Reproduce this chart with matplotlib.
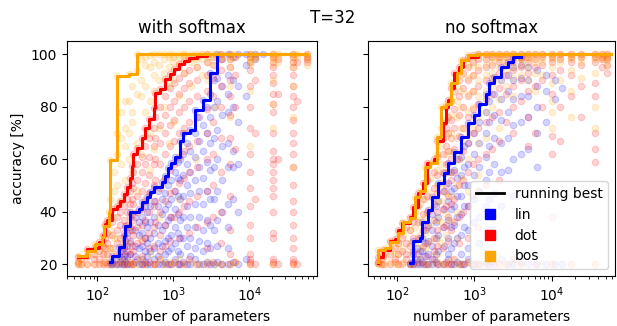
import matplotlib
matplotlib.use("Agg")
import matplotlib.pyplot as plt
from matplotlib.lines import Line2D

# ---- with softmax: scatter columns (number of parameters -> accuracies) ----
soft_lin_cols = [148, 158, 175, 195, 210, 226, 234, 250, 272, 310, 357, 391, 420, 454, 498, 563, 630,
                 715, 785, 860, 940, 1063, 1150, 1236, 1350, 1500, 1674, 1947, 2200, 2470, 2750, 3067,
                 3400, 3800, 4400, 5300, 6200, 7200, 9000, 12000, 15000]
soft_lin_acc = [[20.8, 20], [23, 20, 21], [22, 20], [26.5, 20, 23], [25, 20, 22], [30.7, 20, 26, 22],
                [34.6, 21, 29, 24], [32, 20, 27, 23], [39.8, 20, 34, 29, 24], [38, 21, 33, 27, 23],
                [41, 20, 36, 31, 26], [43.5, 20, 38, 32, 27, 22], [42, 21, 36, 30, 25],
                [45.5, 20, 40, 34, 28, 23], [47.4, 20, 42, 36, 30, 25], [49.3, 22, 44, 38, 32, 26],
                [48, 20, 42, 35, 28, 23], [51.2, 20, 45, 39, 33, 27], [53.5, 21, 47, 41, 35, 29, 24],
                [56.6, 20, 50, 43, 37, 30, 25], [58.7, 20, 52, 45, 38, 31, 26], [61, 22, 55, 48, 41, 34, 28],
                [59, 20, 53, 46, 39, 32, 25], [67, 20, 60, 52, 45, 37, 30, 24], [70, 21, 62, 54, 46, 38, 30],
                [66, 20, 58, 50, 42, 34, 27], [71, 20, 63, 55, 47, 38, 30, 23], [78.6, 22, 70, 61, 52, 43, 34, 26],
                [76, 20, 67, 57, 48, 38, 29], [82.5, 20, 73, 63, 53, 43, 33, 25], [80, 21, 70, 59, 48, 37, 28],
                [92.7, 20, 85, 76, 66, 56, 45, 35, 26], [90, 20, 80, 68, 57, 45, 33],
                [100, 21, 91, 82, 71, 60, 48, 37, 27], [98, 20, 88, 77, 65, 52, 40],
                [100, 20, 92, 85, 78, 66, 57, 43, 34, 26], [99, 21, 90, 80, 63, 57, 45],
                [100, 20, 88, 74, 58, 40], [100, 96, 84, 22], [100, 98], [100]]

soft_dot_cols = [55, 62, 74, 91, 106, 120, 127, 135, 157, 183, 201, 226, 248, 272, 289, 298, 336, 391,
                 428, 483, 563, 580, 674, 785, 914, 1031, 1199, 1395, 1622, 2069, 2790, 3300, 4200,
                 5600, 6500, 10300, 12000, 20800, 24000, 37800, 42000, 58000]
soft_dot_acc = [[22.7, 20, 21], [20, 22], [25.7, 20, 23], [26, 20, 24, 22], [28.4, 20, 25, 22],
                [31, 20, 27, 24], [35.2, 21, 30, 26], [37, 20, 32, 28, 24], [41, 20, 36, 31, 26],
                [42.2, 20, 38, 33, 28, 24], [44, 21, 40, 35, 30, 25], [46.7, 20, 42, 37, 32, 27, 23],
                [49.3, 20, 45, 40, 35, 30, 25], [53, 21, 48, 43, 38, 33, 28, 24], [57.3, 20, 51, 45, 39, 33, 27],
                [62, 20, 55, 49, 43, 37, 31, 25], [64.3, 22, 58, 52, 46, 40, 34, 28],
                [68, 20, 61, 55, 48, 41, 35, 29, 23], [72, 20, 65, 58, 51, 44, 37, 30],
                [75.2, 21, 68, 61, 54, 47, 40, 32, 26], [79.5, 20, 72, 65, 58, 50, 42, 34, 27],
                [85.3, 20, 76, 68, 60, 52, 44, 36], [86.7, 22, 80, 73, 66, 58, 49, 40, 31, 25],
                [90.5, 20, 84, 77, 70, 62, 53, 44, 35, 27], [92.4, 20, 87, 80, 73, 65, 56, 47, 38, 29],
                [94.3, 21, 89, 82, 75, 67, 58, 48, 38], [96.2, 20, 91, 85, 78, 70, 61, 51, 40, 30],
                [97.3, 20, 93, 87, 80, 72, 63, 53, 42], [98.6, 22, 94, 89, 82, 74, 65, 55, 44, 32],
                [99.4, 20, 95, 90, 84, 76, 67, 57, 46, 34], [100, 20, 97, 92, 86, 79, 70, 60, 48, 36, 26],
                [99, 21, 96, 91, 84, 74, 62, 50, 38], [100, 20, 98, 94, 88, 80, 68, 55, 40, 28],
                [100, 20, 98, 95, 90, 84, 77, 68, 58, 46, 33, 24], [99, 21, 92, 80, 64],
                [100, 99, 97, 94, 88, 80, 72, 62, 55, 49, 42, 35, 30, 24, 22, 20, 21],
                [99, 20, 90, 70, 45],
                [100, 99, 97, 95, 92, 89, 85, 81, 78, 70, 63, 60, 58, 55, 52, 49, 46, 40, 32, 30, 22, 20, 21],
                [98, 20, 85, 60],
                [100, 99, 97, 95, 92, 88, 84, 80, 75, 70, 66, 62, 57, 50, 44, 40, 35, 30, 26, 22, 20, 21],
                [97, 20, 82], [100, 99, 98, 97]]

soft_bos_cols = [55, 62, 74, 94, 116, 124, 143, 148, 165, 183, 205, 230, 262, 290, 336, 380, 430, 490,
                 560, 650, 750, 870, 1000, 1200, 1400, 1700, 2000, 2400, 2900, 3500, 4200, 5600, 6500,
                 10300, 12000, 20800, 24000, 37800, 42000, 58000]
soft_bos_acc = [[23.2, 20, 21], [20, 22], [25, 20, 23], [27.6, 20, 24], [30.3, 21, 26], [34.6, 20, 28, 24],
                [39.8, 22, 31, 26], [59.5, 20, 45, 33, 26], [55, 24, 48, 38, 30], [91.5, 20, 70, 62, 50, 30],
                [78, 22, 68, 58, 44], [82, 20, 72, 65, 52, 28], [92.3, 21, 82, 70, 60, 35],
                [88, 20, 78, 74, 55, 40], [100, 20, 94, 85, 66, 48], [98, 22, 90, 84, 62, 30],
                [99, 20, 96, 88, 78, 45], [99.5, 24, 95, 82, 70, 56], [100, 20, 97, 92, 86, 64],
                [100, 22, 96, 90, 72, 38], [100, 20, 98, 93, 80, 52], [100, 21, 99, 95, 88, 66],
                [100, 20, 99, 97, 90, 74], [100, 22, 99, 96, 84, 45], [100, 20, 100, 98, 93, 70],
                [100, 21, 99, 97, 88], [100, 20, 99, 98, 95, 60], [100, 20, 100, 98, 92],
                [100, 21, 99, 97, 90], [100, 20, 100, 99, 96, 80], [100, 20, 99, 98],
                [100, 20, 99, 98, 95, 88, 76], [100, 21, 99], [100, 20, 99, 98, 97, 96, 86, 65],
                [100, 99, 98], [100, 20, 99, 98, 96, 90, 81, 72], [100, 99, 97],
                [100, 20, 99, 97, 95, 88, 76, 57], [100, 99], [100, 99, 98, 96]]

# running best lines, with softmax
soft_lin_best_x = [148, 158, 195, 226, 234, 272, 357, 391, 454, 498, 563, 715, 785, 860, 940, 1063,
                   1236, 1350, 1674, 1947, 2470, 3067, 3800, 15000]
soft_lin_best_y = [20.8, 23, 26.5, 30.7, 34.6, 39.8, 41, 43.5, 45.5, 47.4, 49.3, 51.2, 53.5, 56.6, 58.7,
                   61, 67, 70, 71, 78.6, 82.5, 92.7, 100, 100]
soft_dot_best_x = [55, 74, 91, 106, 120, 127, 135, 157, 183, 201, 226, 248, 272, 289, 298, 336, 391, 428,
                   483, 563, 580, 674, 785, 914, 1031, 1199, 1395, 1622, 2069, 2790, 58000]
soft_dot_best_y = [22.7, 25.7, 26, 28.4, 31, 35.2, 37, 41, 42.2, 44, 46.7, 49.3, 53, 57.3, 62, 64.3, 68,
                   72, 75.2, 79.5, 85.3, 86.7, 90.5, 92.4, 94.3, 96.2, 97.3, 98.6, 99.4, 100, 100]
soft_bos_best_x = [55, 74, 94, 116, 124, 143, 148, 183, 262, 336, 58000]
soft_bos_best_y = [23.2, 25, 27.6, 30.3, 34.6, 39.8, 59.5, 91.5, 92.3, 100, 100]

# ---- no softmax ----
nosoft_lin_cols = [148, 162, 180, 200, 212, 230, 254, 286, 320, 343, 399, 450, 500, 539, 600, 666, 740,
                   821, 984, 1144, 1413, 1546, 1791, 2220, 2724, 3137, 4054, 5000, 6500, 8500, 11000, 13500]
nosoft_lin_acc = [[20.4, 20], [29, 20, 24, 21], [26, 20, 22], [30, 20, 25, 22], [36, 21, 30, 25],
                  [33, 20, 28, 23], [40.6, 20, 35, 29, 24], [45.5, 20, 39, 33, 27, 22], [42, 21, 36, 30, 24],
                  [50.8, 20, 44, 38, 31, 25], [54.6, 20, 48, 41, 34, 27], [58.5, 22, 51, 44, 37, 30, 24],
                  [55, 20, 48, 41, 34, 26], [62.7, 20, 56, 49, 42, 35, 28], [60, 21, 53, 46, 38, 30],
                  [68.4, 20, 61, 54, 46, 39, 31, 24], [65, 20, 57, 50, 42, 34],
                  [73.7, 22, 66, 58, 50, 42, 33, 26], [76.8, 20, 70, 62, 54, 45, 36],
                  [81, 20, 74, 66, 57, 48, 38, 28], [85, 21, 78, 70, 61, 52, 42],
                  [89, 20, 82, 74, 65, 55, 45, 33], [91.2, 20, 85, 77, 68, 58, 47],
                  [95, 22, 90, 83, 75, 66, 55, 42], [97, 20, 92, 86, 78, 68, 56],
                  [99, 20, 95, 90, 83, 73, 60, 46], [99, 21, 96, 91, 84, 74, 62], [95, 20, 90, 84, 76, 64],
                  [94, 20, 88, 80, 70, 57], [92, 20, 86, 74], [90, 20, 83], [87, 20]]

nosoft_dot_cols = [56, 62, 66, 81, 94, 103, 116, 130, 148, 162, 188, 219, 246, 296, 333, 388, 424, 450,
                   493, 539, 626, 706, 821, 960, 1109, 1400, 1700, 2100, 2600, 3200, 4000, 5000, 6000,
                   7500, 10000, 13000, 18000, 24000, 36000, 45000, 52000]
nosoft_dot_acc = [[20.4, 22.7, 21], [20, 22], [25.3, 20, 23], [29, 20, 24], [29.5, 21, 26, 22],
                  [33, 20, 28, 24], [35.6, 20, 30, 25], [34, 22, 28, 24], [38, 20, 33, 27],
                  [41.7, 20, 36, 30, 25], [47, 21, 42, 36, 30, 24], [51, 20, 45, 39, 33, 27],
                  [58.5, 20, 52, 46, 40, 34, 28, 23], [60, 22, 55, 49, 43, 37, 30, 25],
                  [67, 20, 61, 54, 47, 40, 33, 27], [73.6, 20, 68, 62, 55, 48, 41, 34, 26],
                  [80, 21, 72, 65, 58, 50, 42, 35], [82.5, 20, 76, 70, 63, 55, 46, 38, 29],
                  [87, 20, 82, 75, 68, 60, 52, 43, 33], [93, 22, 86, 79, 72, 64, 55, 45, 36],
                  [95, 20, 90, 84, 77, 69, 60, 50, 38, 28], [97.7, 20, 93, 87, 80, 72, 63, 52, 40],
                  [99, 21, 95, 90, 84, 76, 66, 55, 42, 30], [99.5, 20, 97, 92, 86, 79, 70, 58, 46],
                  [100, 20, 98, 94, 88, 81, 72, 60, 48, 34], [100, 20, 98, 95, 90, 83, 74, 62, 50],
                  [100, 21, 99, 96, 91, 85, 76, 64], [100, 20, 99, 97, 93, 87, 78, 67, 52],
                  [100, 20, 99, 96, 92, 85, 74], [100, 22, 99, 97, 94, 88, 80, 70],
                  [100, 20, 99, 98, 95, 90, 82], [100, 99, 97, 93, 86, 76, 65], [100, 20, 98, 95, 88, 70],
                  [100, 99, 96, 90, 80], [100, 20, 99, 97, 92, 85, 69, 62, 38], [100, 98, 94, 80, 67],
                  [100, 20, 99, 97, 92, 84], [100, 99, 96, 88, 76], [100, 20, 99, 97, 89, 84, 70, 64, 59],
                  [100, 99, 98, 95], [100, 99, 98, 96, 93]]

nosoft_bos_cols = [56, 62, 70, 81, 94, 103, 120, 148, 172, 200, 232, 270, 333, 365, 424, 493, 597, 666,
                   821, 950, 1109, 1400, 1700, 2100, 2600, 3200, 4000, 5000, 6000, 7500, 10000, 13000,
                   18000, 24000, 36000, 45000, 52000]
nosoft_bos_acc = [[20.8, 25.3, 20], [20, 23], [26, 20, 23], [28.4, 21, 25], [27, 20, 24],
                  [31.8, 20, 28, 24], [36, 21, 31, 26], [37.5, 20, 33, 28, 24], [45.5, 20, 40, 34, 28],
                  [48, 22, 43, 37, 31, 26], [57, 20, 51, 45, 38, 32, 26], [58.5, 20, 53, 47, 41, 35, 29],
                  [68.4, 21, 62, 56, 50, 44, 37, 30, 24], [80, 20, 72, 65, 58, 51, 44, 36, 28],
                  [81, 20, 75, 69, 62, 55, 47, 39, 31], [89, 22, 83, 77, 70, 63, 55, 46, 37],
                  [93, 20, 88, 82, 76, 68, 60, 50, 40, 30], [97.7, 20, 92, 86, 80, 72, 63, 53],
                  [99.5, 21, 96, 91, 85, 78, 70, 60, 48], [99, 20, 96, 92, 86, 80, 72],
                  [100, 20, 99, 95, 90, 84, 76, 66, 54], [100, 20, 99, 96, 92, 86, 78, 68],
                  [100, 22, 99, 97, 93, 88, 80], [100, 20, 99, 98, 95, 90, 83, 72], [100, 20, 99, 97, 94, 88],
                  [100, 21, 100, 98, 95, 91, 84], [100, 20, 99, 98, 96, 92], [100, 99, 98, 95, 90],
                  [100, 99, 97, 93, 86], [100, 20, 99, 97, 92], [100, 20, 99, 98, 95, 89, 82, 78, 72],
                  [100, 99, 97, 90], [100, 20, 99, 98, 94, 86, 76], [100, 99, 97, 91],
                  [100, 20, 99, 98, 93, 80, 72], [100, 99, 98], [100, 99, 98, 96]]

# running best lines, no softmax
nosoft_lin_best_x = [148, 162, 200, 212, 254, 286, 343, 399, 450, 539, 666, 821, 984, 1144, 1413, 1546,
                     1791, 2220, 2724, 3137, 4054]
nosoft_lin_best_y = [20.4, 29, 30, 36, 40.6, 45.5, 50.8, 54.6, 58.5, 62.7, 68.4, 73.7, 76.8, 81, 85, 89,
                     91.2, 95, 97, 99, 99]
nosoft_dot_best_x = [56, 57, 66, 81, 94, 103, 116, 148, 162, 188, 219, 246, 296, 333, 388, 424, 450, 493,
                     539, 626, 706, 821, 1109, 58000]
nosoft_dot_best_y = [20.4, 22.7, 25.3, 29, 29.5, 33, 35.6, 38, 41.7, 47, 51, 58.5, 60, 67, 73.6, 80, 82.5,
                     87, 93, 95, 97.7, 99, 100, 100]
nosoft_bos_best_x = [56, 57, 70, 81, 103, 120, 148, 172, 200, 232, 270, 333, 365, 424, 493, 597, 666,
                     821, 1109, 58000]
nosoft_bos_best_y = [20.8, 25.3, 26, 28.4, 31.8, 36, 37.5, 45.5, 48, 57, 58.5, 68.4, 80, 81, 89, 93, 97.7,
                     99.5, 100, 100]

colors = {"lin": "blue", "dot": "red", "bos": "orange"}


def achatar(cols, accs):
    xs, ys = [], []
    for c, lista in zip(cols, accs):
        for a in lista:
            xs.append(c)
            ys.append(a)
    return xs, ys


def desenharPainel(ax, pontos, melhores, titulo):
    for nome in ["lin", "dot", "bos"]:
        xs, ys = achatar(*pontos[nome])
        ax.scatter(xs, ys, s=22, color=colors[nome], alpha=0.17, linewidths=0.8)
    for nome in ["lin", "dot", "bos"]:
        bx, by = melhores[nome]
        ax.step(bx, by, where="post", color=colors[nome], lw=2.2)
    ax.set_xscale("log")
    ax.set_ylim(15.5, 105)
    ax.set_yticks([20, 40, 60, 80, 100])
    ax.set_title(titulo, fontsize=12)
    ax.set_xlabel("number of parameters", fontsize=10)


fig = plt.figure(figsize=(6.17, 3.26), dpi=100)
ax1 = fig.add_axes([67 / 617, 50 / 326, 250 / 617, 235 / 326])
ax2 = fig.add_axes([368 / 617, 50 / 326, 247 / 617, 235 / 326])

desenharPainel(ax1,
               {"lin": (soft_lin_cols, soft_lin_acc), "dot": (soft_dot_cols, soft_dot_acc),
                "bos": (soft_bos_cols, soft_bos_acc)},
               {"lin": (soft_lin_best_x, soft_lin_best_y), "dot": (soft_dot_best_x, soft_dot_best_y),
                "bos": (soft_bos_best_x, soft_bos_best_y)},
               "with softmax")
ax1.set_xlim(40, 78000)
ax1.set_ylabel("accuracy [%]", fontsize=10)

desenharPainel(ax2,
               {"lin": (nosoft_lin_cols, nosoft_lin_acc), "dot": (nosoft_dot_cols, nosoft_dot_acc),
                "bos": (nosoft_bos_cols, nosoft_bos_acc)},
               {"lin": (nosoft_lin_best_x, nosoft_lin_best_y), "dot": (nosoft_dot_best_x, nosoft_dot_best_y),
                "bos": (nosoft_bos_best_x, nosoft_bos_best_y)},
               "no softmax")
ax2.set_xlim(42, 66000)
ax2.tick_params(labelleft=False)

handles = [Line2D([0], [0], color="black", lw=2, label="running best")]
for nome in ["lin", "dot", "bos"]:
    handles.append(Line2D([], [], marker="s", color=colors[nome], linestyle="none",
                          markersize=7, label=nome))
ax2.legend(handles=handles, loc="lower right", fontsize=10)

fig.text(0.54, 0.945, "T=32", ha="center", va="center", fontsize=12)

plt.savefig("out.png", dpi=100)
